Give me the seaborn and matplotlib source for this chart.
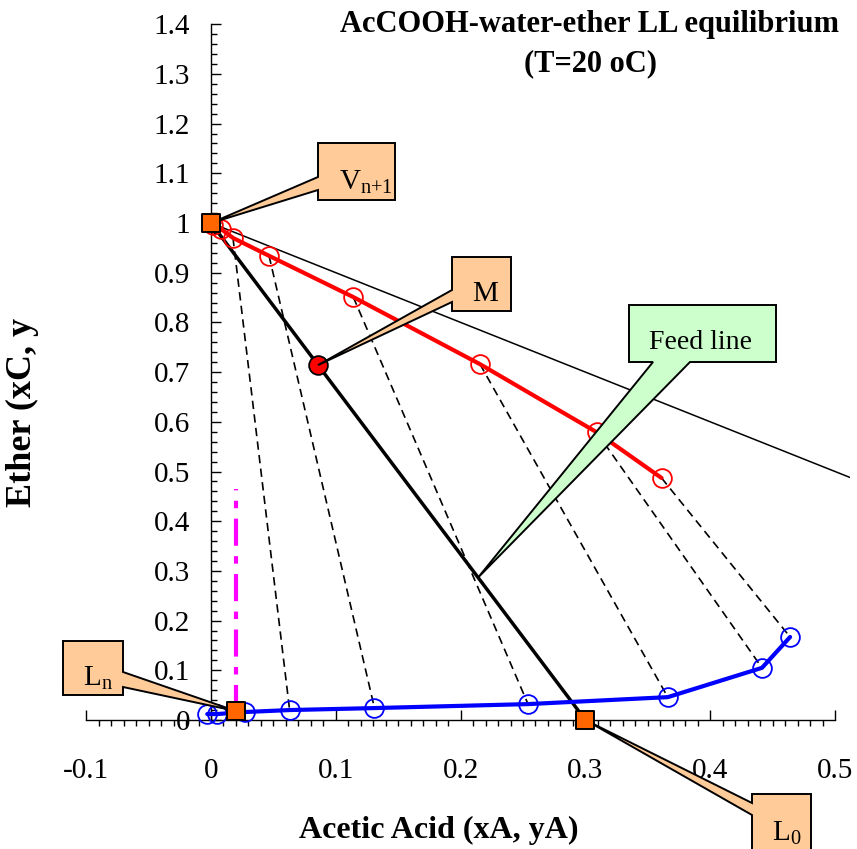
import numpy as np
import pandas as pd
import matplotlib
matplotlib.use("Agg")
import matplotlib.pyplot as plt
import seaborn as sns
from matplotlib.patches import Polygon

# ---------------- data ----------------
extract_x = [0.0016, 0.008, 0.0176, 0.0465, 0.114, 0.2155, 0.309, 0.361]
extract_y = [0.996, 0.988, 0.970, 0.934, 0.851, 0.716, 0.579, 0.487]

raff_x = [-0.003, 0.005, 0.027, 0.063, 0.131, 0.254, 0.366, 0.4415, 0.464]
raff_y = [0.012, 0.012, 0.016, 0.020, 0.024, 0.032, 0.046, 0.105, 0.167]

# tie lines: extract points 2.. paired with raffinate points 3..
tie_top_x = extract_x[2:]
tie_top_y = extract_y[2:]
tie_bot_x = raff_x[3:]
tie_bot_y = raff_y[3:]

V_pt = (0.0, 1.0)        # V_{n+1}
M_pt = (0.0857, 0.714)   # M
L0_pt = (0.30, 0.0)      # L_0
Ln_pt = (0.02, 0.018)    # L_n

tri_x = [0.0, 1.0]       # x + y = 1 boundary
tri_y = [1.0, 0.0]

mag_x = [0.02, 0.02]
mag_y = [0.016, 0.465]

feed_tip_x = 0.214

x_ticks = [-0.1, 0.0, 0.1, 0.2, 0.3, 0.4, 0.5]
x_labels = ["-0.1", "0", "0.1", "0.2", "0.3", "0.4", "0.5"]
y_ticks = [0.0, 0.1, 0.2, 0.3, 0.4, 0.5, 0.6, 0.7, 0.8, 0.9, 1.0, 1.1, 1.2, 1.3, 1.4]
y_labels = ["0", "0.1", "0.2", "0.3", "0.4", "0.5", "0.6", "0.7", "0.8", "0.9",
            "1", "1.1", "1.2", "1.3", "1.4"]

title = "AcCOOH-water-ether LL equilibrium\n(T=20 oC)"
xlabel = "Acetic Acid (xA, yA)"
ylabel = "Ether (xC, y"

# ---------------- style ----------------
sns.set_style("ticks")
plt.rcParams["font.family"] = ["Liberation Serif", "DejaVu Serif"]
for k in ["text.color", "axes.labelcolor", "xtick.color", "ytick.color", "axes.edgecolor"]:
    plt.rcParams[k] = "black"

W, H = 857, 849
fig = plt.figure(figsize=(W / 100, H / 100), dpi=100)
ax = fig.add_axes([86.2 / W, (H - 720) / H, (850 - 86.2) / W, (720 - 24.2) / H])
ax.set_xlim(-0.1, 0.512)
ax.set_ylim(0.0, 1.4)

# ---------------- marks ----------------
tie_df = pd.DataFrame({
    "x": [v for pair in zip(tie_top_x, tie_bot_x) for v in pair],
    "y": [v for pair in zip(tie_top_y, tie_bot_y) for v in pair],
    "tie": [i for i in range(len(tie_top_x)) for _ in range(2)],
})
sns.lineplot(data=tie_df, x="x", y="y", units="tie", estimator=None, sort=False,
             color="black", linewidth=1.2, linestyle=(0, (5, 3.2)), ax=ax, zorder=2)

sns.lineplot(x=tri_x, y=tri_y, estimator=None, sort=False, color="black",
             linewidth=1.1, ax=ax, zorder=2)

sns.lineplot(x=[V_pt[0], L0_pt[0]], y=[V_pt[1], L0_pt[1]], estimator=None, sort=False,
             color="black", linewidth=2.5, ax=ax, zorder=3)

sns.lineplot(x=mag_x, y=mag_y, estimator=None, sort=False, color="#FF00FF",
             linewidth=3, linestyle=(0, (6.5, 2.5, 1.8, 2.5)), ax=ax, zorder=3)

sns.lineplot(x=extract_x, y=extract_y, estimator=None, sort=False, color="#FF0000",
             linewidth=3, marker="o", markersize=13.5, markerfacecolor="none",
             markeredgecolor="#FF0000", markeredgewidth=1.3, ax=ax, zorder=4,
             clip_on=False)

sns.lineplot(x=raff_x, y=raff_y, estimator=None, sort=False, color="#0000FF",
             linewidth=3, marker="o", markersize=13.5, markerfacecolor="none",
             markeredgecolor="#0000FF", markeredgewidth=1.3, ax=ax, zorder=4,
             clip_on=False)

sns.scatterplot(x=[M_pt[0]], y=[M_pt[1]], marker="o", s=13.5 ** 2, color="#FF0000",
                edgecolor="black", linewidth=1.3, ax=ax, zorder=6, clip_on=False)

sq_x = [V_pt[0], Ln_pt[0], L0_pt[0]]
sq_y = [V_pt[1], Ln_pt[1], L0_pt[1]]
sns.scatterplot(x=sq_x, y=sq_y, marker="s", s=13.5 ** 2, color="#FF6600",
                edgecolor="black", linewidth=1.4, ax=ax, zorder=9, clip_on=False)

# ---------------- axes ----------------
for s in ["top", "right"]:
    ax.spines[s].set_visible(False)
ax.spines["left"].set_position(("data", 0))
ax.spines["bottom"].set_bounds(-0.1, 0.5)
for s in ["left", "bottom"]:
    ax.spines[s].set_color("black")
    ax.spines[s].set_linewidth(1.0)

ax.set_xticks(x_ticks, x_labels)
ax.set_yticks(y_ticks, y_labels)
ax.set_xticks(np.round(np.arange(-0.1, 0.5001, 0.01), 3), minor=True)
ax.set_yticks(np.round(np.arange(0, 1.4001, 0.02), 3), minor=True)
ax.tick_params(axis="both", which="both", left=True, bottom=True, top=False, right=False)
ax.tick_params(axis="y", which="major", direction="in", length=7, width=1,
               pad=15, labelsize=21, color="black")
ax.tick_params(axis="y", which="minor", direction="in", length=4.3, width=1, color="black")
ax.tick_params(axis="x", which="major", direction="in", length=7, width=1,
               pad=27, labelsize=21, color="black")
ax.tick_params(axis="x", which="minor", direction="out", length=4.3, width=1, color="black")

ax.set_xlabel(xlabel, fontsize=23, fontweight="bold")
ax.set_ylabel(ylabel, fontsize=26, fontweight="bold")
ax.xaxis.label.set_va("center")
ax.xaxis.set_label_coords((439 - 86.2) / (850 - 86.2), (720 - 830) / (720 - 24.2))
ax.yaxis.label.set_va("center")
ax.yaxis.label.set_ha("center")
ax.yaxis.set_label_coords((22 - 86.2) / (850 - 86.2), (720 - 412) / (720 - 24.2))

ax.set_title(title, fontsize=22, fontweight="bold", x=(590 - 86.2) / (850 - 86.2),
             y=(720 - 44) / (720 - 24.2), pad=0, va="center", linespacing=1.45)

# ---------------- callouts ----------------
inv = ax.transData.inverted()


def to_data(px, py):
    return inv.transform((px, H - py))


def to_px(x, y):
    dx, dy = ax.transData.transform((x, y))
    return dx, H - dy


def callout(box, side, base, tip, fc, text, pos, size):
    x0, y0, x1, y1 = box
    tx, ty = to_px(*tip)
    if side == "left":
        verts = [(x0, y0), (x1, y0), (x1, y1), (x0, y1), (x0, base[1]), (tx, ty), (x0, base[0])]
    elif side == "right":
        verts = [(x0, y0), (x1, y0), (x1, base[0]), (tx, ty), (x1, base[1]), (x1, y1), (x0, y1)]
    else:  # bottom
        verts = [(x0, y0), (x1, y0), (x1, y1), (base[1], y1), (tx, ty), (base[0], y1), (x0, y1)]
    poly = Polygon([to_data(*v) for v in verts], closed=True, facecolor=fc,
                   edgecolor="black", linewidth=1.4, transform=ax.transData,
                   clip_on=False, zorder=7)
    ax.add_patch(poly)
    dx, dy = to_data(*pos)
    ax.text(dx, dy, text, ha="left", va="baseline", fontsize=size, zorder=8,
            clip_on=False)


feed_tip_y = V_pt[1] + (L0_pt[1] - V_pt[1]) * (feed_tip_x - V_pt[0]) / (L0_pt[0] - V_pt[0])

callout((318, 143, 395, 200), "left", (177, 190), V_pt, "#FFCC99",
        r"$\mathregular{V_{n{+}1}}$", (339, 190), 21)
callout((452, 257, 511, 311), "left", (290, 302), M_pt, "#FFCC99",
        "M", (472, 301), 21)
callout((629, 305, 776, 362), "bottom", (653, 690), (feed_tip_x, feed_tip_y), "#CCFFCC",
        "Feed line", (649, 349), 20)
callout((63, 641, 123, 695), "right", (672, 687), Ln_pt, "#FFCC99",
        r"$\mathregular{L_{n}}$", (83, 686), 21)
callout((752, 794, 811, 862), "left", (803, 815), L0_pt, "#FFCC99",
        r"$\mathregular{L_{0}}$", (772, 841), 21)

fig.savefig("out.png", dpi=100)
